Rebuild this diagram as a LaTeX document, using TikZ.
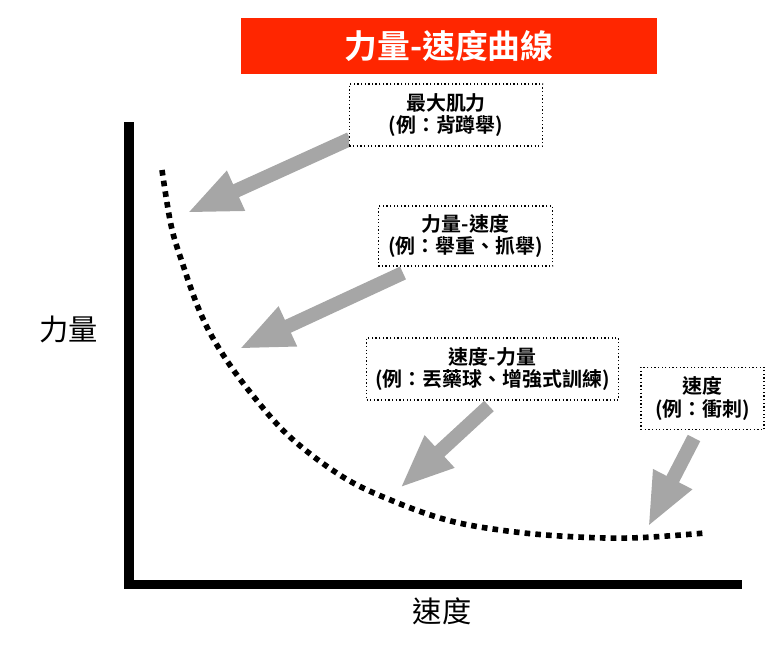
\documentclass[tikz,border=0pt]{standalone}
\usepackage{fontspec}
\setmainfont{Noto Sans CJK TC}[BoldFont={Noto Sans CJK TC Bold}]
\usepackage{tikz}
\usetikzlibrary{arrows.meta}
\definecolor{titlered}{RGB}{255,38,0}
\definecolor{arrowgray}{RGB}{166,166,166}
\tikzset{
  notebox/.style={draw, dotted, line width=1.1pt, fill=white, align=center,
    font=\fontsize{17}{19}\selectfont\bfseries, inner sep=2pt},
  bigarrow/.style={draw=arrowgray, line width=12pt,
    -{Triangle[length=46pt,width=34pt,fill=arrowgray]}},
  axislabel/.style={font=\fontsize{25}{28}\selectfont}
}
\begin{document}
\begin{tikzpicture}[x=0.03cm, y=-0.03cm]
\useasboundingbox (0,0) rectangle (778,645);
% title
\node[fill=titlered, text=white, minimum width=355pt, minimum height=47.6pt,
  font=\fontsize{28}{30}\selectfont\bfseries] (title) at (449,46) {力量-速度曲線};
% axes
\draw[line width=7.7pt] (129,122) -- (129,584.5) -- (742,584.5);
\node[axislabel] (ylab) at (69,329) {力量};
\node[axislabel] (xlab) at (442,611) {速度};
% curve
\draw[line width=4.8pt, dash pattern=on 4.8pt off 4.4pt] plot[smooth, tension=0.6] coordinates
  {(162,170) (171,225) (182,262) (200,312) (220,350) (250,392) (290,437) (343,477)
   (393,501) (447,520) (500,530) (560,536) (630,538) (705,533)};
% arrows
\coordinate (t1) at (350,139); \coordinate (h1) at (187,213);
\coordinate (t2) at (403,273); \coordinate (h2) at (239,349);
\coordinate (t3) at (489,406); \coordinate (h3) at (400,488);
\coordinate (t4) at (694,438); \coordinate (h4) at (648,527);
\draw[bigarrow] (t1) -- (h1);
\draw[bigarrow] (t2) -- (h2);
\draw[bigarrow] (t3) -- (h3);
\draw[bigarrow] (t4) -- (h4);
% boxes
\node[notebox, minimum width=165pt, minimum height=53pt] (b1) at (446,115) {最大肌力\\(例：背蹲舉)};
\node[notebox, minimum width=149pt, minimum height=51pt] (b2) at (465.5,236) {力量-速度\\(例：舉重、抓舉)};
\node[notebox, minimum width=215pt, minimum height=53pt] (b3) at (492.5,369) {速度-力量\\(例：丟藥球、增強式訓練)};
\node[notebox, minimum width=105pt, minimum height=53.5pt] (b4) at (702.5,398.5) {速度\\(例：衝刺)};
\end{tikzpicture}
\end{document}
